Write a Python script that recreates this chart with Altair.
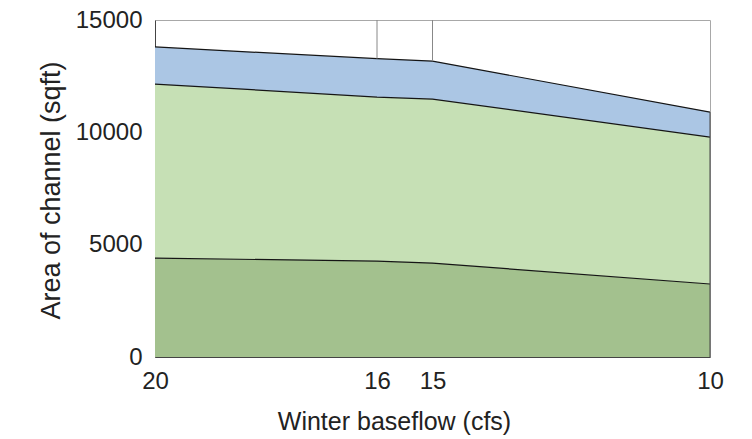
import altair as alt
import pandas as pd

flow = [20, 16, 15, 10]
# top boundary of each band (sqft)
low_top = [4400, 4270, 4180, 3250]
mid_top = [12150, 11570, 11480, 9790]
high_top = [13800, 13280, 13170, 10900]
bands = ["low", "mid", "high"]
colors = ["#a3c18e", "#c6e0b5", "#abc6e4"]

rows = []
bottoms = [[0] * 4, low_top, mid_top]
tops = [low_top, mid_top, high_top]
for i, b in enumerate(bands):
    for j, f in enumerate(flow):
        rows.append({"flow": f, "band": b, "top": tops[i][j], "bottom": bottoms[i][j]})
df = pd.DataFrame(rows)

marks_df = pd.DataFrame({"flow": [16, 15], "y": [high_top[1], high_top[2]], "y2": [15000, 15000]})
edge_df = pd.DataFrame({"flow": [10], "y": [0], "y2": [high_top[3]]})

xs = alt.Scale(domain=[10, 20], reverse=True, nice=False, zero=False)
ys = alt.Scale(domain=[0, 15000], nice=False)

x_axis = alt.Axis(values=flow, ticks=False, grid=False, title="Winter baseflow (cfs)",
                  format="d", labelPadding=12, titleFontSize=25,
                  titleX=239, titleY=72, titleBaseline="alphabetic", labelFlush=False)
y_axis = alt.Axis(values=[0, 5000, 10000, 15000], ticks=False, grid=False, format="d",
                  title="Area of channel (sqft)", labelPadding=13, titleFontSize=27,
                  titleX=-104, titleY=170, titleBaseline="middle", titleAlign="center")

base = alt.Chart(df)
areas = base.mark_area(opacity=1).encode(
    x=alt.X("flow:Q", scale=xs, axis=x_axis),
    y=alt.Y("top:Q", scale=ys, axis=y_axis),
    y2="bottom:Q",
    color=alt.Color("band:N", scale=alt.Scale(domain=bands, range=colors), legend=None),
)
lines = base.mark_line(color="#151515", strokeWidth=1.2).encode(
    x=alt.X("flow:Q", scale=xs),
    y=alt.Y("top:Q", scale=ys),
    detail="band:N",
)

vlines = alt.Chart(marks_df).mark_rule(color="#888", strokeWidth=1).encode(
    x=alt.X("flow:Q", scale=xs), y=alt.Y("y:Q", scale=ys), y2="y2:Q")
edge = alt.Chart(edge_df).mark_rule(color="#444", strokeWidth=1).encode(
    x=alt.X("flow:Q", scale=xs), y=alt.Y("y:Q", scale=ys), y2="y2:Q")

chart = alt.layer(areas, lines, vlines, edge).properties(
    width=555, height=337,
    autosize=alt.AutoSizeParams(type="none"),
    padding={"left": 147, "top": 12, "right": 30, "bottom": 78},
).configure(font="Liberation Sans").configure_view(
    stroke="#a8a8a8", strokeWidth=1
).configure_axis(
    labelFontSize=24, titleFontWeight="normal",
    domainColor="#444", labelColor="#222", titleColor="#222",
    labelFont="Liberation Sans", titleFont="Liberation Sans",
)

chart.save("out.html", embed_options={"renderer": "svg", "actions": False})
